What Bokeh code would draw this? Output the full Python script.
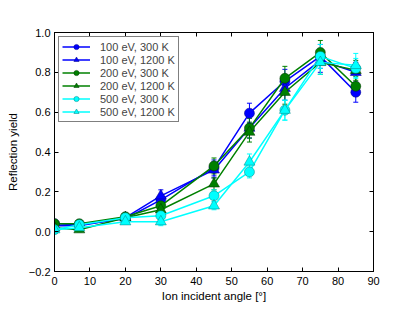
from bokeh.plotting import figure
from bokeh.models import (ColumnDataSource, Whisker, TeeHead, Legend, LegendItem,
                          LinearAxis, FixedTicker, Range1d)
from bokeh.embed import file_html
from bokeh.resources import INLINE

angles = [0, 7, 20, 30, 45, 55, 65, 75, 85]

labels = ["100 eV, 300 K", "100 eV, 1200 K", "200 eV, 300 K",
          "200 eV, 1200 K", "500 eV, 300 K", "500 eV, 1200 K"]

y_100_300 = [0.04, 0.035, 0.065, 0.16, 0.32, 0.595, 0.755, 0.88, 0.70]
y_100_1200 = [0.03, 0.03, 0.07, 0.18, 0.31, 0.52, 0.72, 0.86, 0.80]
y_200_300 = [0.04, 0.04, 0.075, 0.13, 0.33, 0.52, 0.77, 0.90, 0.73]
y_200_1200 = [0.02, 0.01, 0.07, 0.11, 0.24, 0.50, 0.70, 0.85, 0.81]
y_500_300 = [0.01, 0.035, 0.07, 0.08, 0.18, 0.30, 0.61, 0.88, 0.82]
y_500_1200 = [0.01, 0.02, 0.05, 0.05, 0.13, 0.35, 0.61, 0.85, 0.835]

e_100_300 = [0.01, 0.01, 0.01, 0.025, 0.04, 0.05, 0.06, 0.06, 0.05]
e_100_1200 = [0.01, 0.01, 0.01, 0.03, 0.04, 0.05, 0.06, 0.06, 0.05]
e_200_300 = [0.01, 0.01, 0.01, 0.02, 0.04, 0.05, 0.06, 0.06, 0.05]
e_200_1200 = [0.01, 0.01, 0.01, 0.02, 0.03, 0.05, 0.06, 0.06, 0.05]
e_500_300 = [0.01, 0.01, 0.01, 0.02, 0.03, 0.03, 0.05, 0.06, 0.05]
e_500_1200 = [0.01, 0.01, 0.01, 0.02, 0.02, 0.04, 0.05, 0.06, 0.06]

series_y = [y_100_300, y_100_1200, y_200_300, y_200_1200, y_500_300, y_500_1200]
series_e = [e_100_300, e_100_1200, e_200_300, e_200_1200, e_500_300, e_500_1200]
colors = ["#0000ff", "#0000ff", "#008000", "#008000", "#00ffff", "#00ffff"]
edges = ["#000080", "#000080", "#003300", "#003300", "#008080", "#008080"]
markers = ["circle", "triangle", "circle", "triangle", "circle", "triangle"]

x_ticks = [0, 10, 20, 30, 40, 50, 60, 70, 80, 90]
y_ticks = [-0.2, 0.0, 0.2, 0.4, 0.6, 0.8, 1.0]
y_tick_labels = ["\u22120.2", "0.0", "0.2", "0.4", "0.6", "0.8", "1.0"]

FONT = "Liberation Sans"

p = figure(width=399, height=304, output_backend="svg", toolbar_location=None,
           x_range=Range1d(0, 90), y_range=Range1d(-0.2, 1.0),
           min_border_left=54, min_border_right=26, min_border_top=32,
           min_border_bottom=33)
p.grid.visible = False
p.outline_line_color = "black"
p.outline_line_width = 1
p.background_fill_color = "white"
p.border_fill_color = "white"

for ax in (p.xaxis[0], p.yaxis[0]):
    ax.major_tick_in = 4
    ax.major_tick_out = 0
    ax.minor_tick_line_color = None
    ax.major_label_text_font = FONT
    ax.major_label_text_font_size = "11px"
    ax.major_label_text_color = "black"
    ax.axis_label_text_font = FONT
    ax.axis_label_text_font_size = "11.5px"
    ax.axis_label_text_font_style = "normal"
    ax.axis_label_text_color = "black"
    ax.axis_line_color = "black"
    ax.major_tick_line_color = "black"

p.xaxis[0].ticker = FixedTicker(ticks=x_ticks)
p.yaxis[0].ticker = FixedTicker(ticks=y_ticks)
p.yaxis[0].major_label_overrides = {t: s for t, s in zip(y_ticks, y_tick_labels)}
p.xaxis[0].axis_label = "Ion incident angle [°]"
p.yaxis[0].axis_label = "Reflection yield"
p.xaxis[0].major_label_standoff = 5
p.yaxis[0].major_label_standoff = 4
p.xaxis[0].axis_label_standoff = 2
p.yaxis[0].axis_label_standoff = 7

right = LinearAxis(ticker=FixedTicker(ticks=y_ticks), major_tick_in=4, major_tick_out=0,
                   minor_tick_line_color=None,
                   major_label_overrides={t: "" for t in y_ticks},
                   major_label_standoff=0, axis_line_color="black")
top = LinearAxis(ticker=FixedTicker(ticks=x_ticks), major_tick_in=4, major_tick_out=0,
                 minor_tick_line_color=None,
                 major_label_overrides={t: "" for t in x_ticks},
                 major_label_standoff=0, axis_line_color="black")
p.add_layout(right, "right")
p.add_layout(top, "above")

items = []
for lab, ys, es, c, ec, m in zip(labels, series_y, series_e, colors, edges, markers):
    src = ColumnDataSource(dict(x=angles, y=ys,
                                lo=[a - b for a, b in zip(ys, es)],
                                hi=[a + b for a, b in zip(ys, es)]))
    w = Whisker(source=src, base="x", lower="lo", upper="hi",
                line_color=c, line_width=1,
                lower_head=TeeHead(size=5, line_color=c, line_width=1),
                upper_head=TeeHead(size=5, line_color=c, line_width=1))
    p.add_layout(w)
    ln = p.line("x", "y", source=src, line_color=c, line_width=1.5)
    sc = p.scatter("x", "y", source=src, marker=m, size=10 if m == "circle" else 11,
                   fill_color=c, line_color=ec, line_width=0.5)
    items.append(LegendItem(label=lab, renderers=[ln, sc]))

legend = Legend(items=items, location="top_left", label_text_font=FONT,
                label_text_font_size="11px", glyph_width=28, glyph_height=13,
                label_height=13, spacing=0, padding=3, margin=4,
                label_standoff=10, border_line_color="black", border_line_width=1,
                background_fill_alpha=1)
p.add_layout(legend)

open("out.html", "w").write(file_html(p, INLINE))
